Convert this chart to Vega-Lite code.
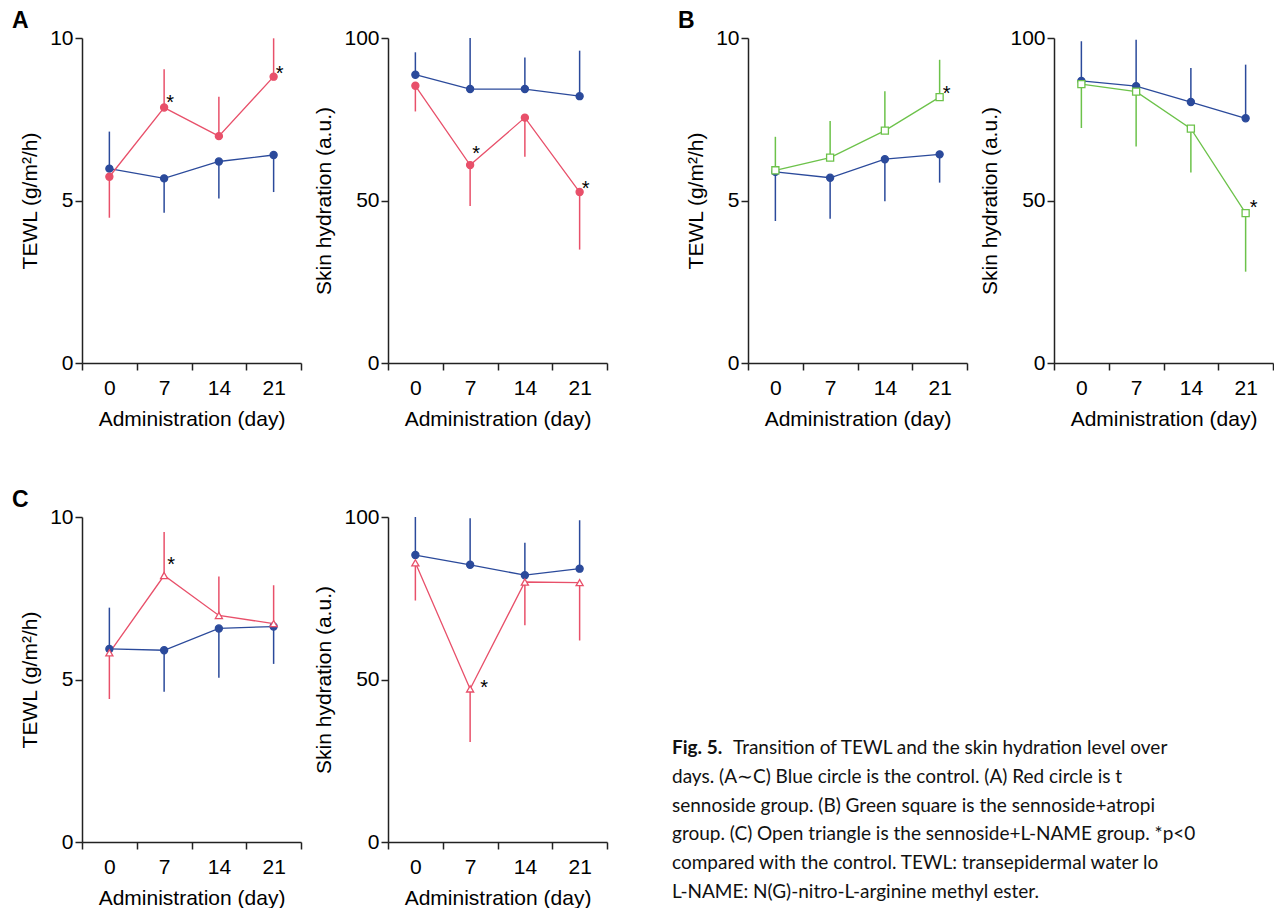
{
  "$schema": "https://vega.github.io/schema/vega-lite/v6.json",
  "padding": {"left": 12, "top": 10, "right": 0, "bottom": 0},
  "config": {
    "view": {"stroke": null},
    "font": "Liberation Sans",
    "axis": {"domainColor": "#222", "domainWidth": 1.5, "tickColor": "#222", "tickWidth": 1.5, "tickSize": 7, "labelFontSize": 21, "labelColor": "#000", "titleFontSize": 21, "titleFontWeight": "normal", "titleColor": "#000", "grid": false, "labelFont": "Liberation Sans", "titleFont": "Liberation Sans"},
    "axisX": {"tickBand": "extent", "labelAngle": 0, "labelPadding": 7, "titlePadding": 10},
    "axisY": {"labelPadding": 2, "titlePadding": 9},
    "title": {"fontSize": 23, "fontWeight": "bold", "anchor": "start", "frame": "group", "font": "Liberation Sans", "color": "#000", "dx": -70, "dy": 10}
  },
  "datasets": {
    "d": [
      {"panel": "A_T", "group": "Control", "day": 0, "mean": 5.98, "end": 7.12, "star": null},
      {"panel": "A_T", "group": "Control", "day": 7, "mean": 5.68, "end": 4.62, "star": null},
      {"panel": "A_T", "group": "Control", "day": 14, "mean": 6.20, "end": 5.06, "star": null},
      {"panel": "A_T", "group": "Control", "day": 21, "mean": 6.40, "end": 5.26, "star": null},
      {"panel": "A_T", "group": "Sennoside", "day": 0, "mean": 5.73, "end": 4.47, "star": null},
      {"panel": "A_T", "group": "Sennoside", "day": 7, "mean": 7.86, "end": 9.04, "star": 8.14},
      {"panel": "A_T", "group": "Sennoside", "day": 14, "mean": 6.98, "end": 8.19, "star": null},
      {"panel": "A_T", "group": "Sennoside", "day": 21, "mean": 8.81, "end": 9.99, "star": 9.06},
      {"panel": "A_S", "group": "Control", "day": 0, "mean": 88.7, "end": 95.6, "star": null},
      {"panel": "A_S", "group": "Control", "day": 7, "mean": 84.3, "end": 100, "star": null},
      {"panel": "A_S", "group": "Control", "day": 14, "mean": 84.3, "end": 94.0, "star": null},
      {"panel": "A_S", "group": "Control", "day": 21, "mean": 82.1, "end": 96.1, "star": null},
      {"panel": "A_S", "group": "Sennoside", "day": 0, "mean": 85.3, "end": 77.4, "star": null},
      {"panel": "A_S", "group": "Sennoside", "day": 7, "mean": 60.9, "end": 48.3, "star": 66.0},
      {"panel": "A_S", "group": "Sennoside", "day": 14, "mean": 75.5, "end": 63.5, "star": null},
      {"panel": "A_S", "group": "Sennoside", "day": 21, "mean": 52.6, "end": 34.9, "star": 55.2},
      {"panel": "B_T", "group": "Control", "day": 0, "mean": 5.88, "end": 4.37, "star": null},
      {"panel": "B_T", "group": "Control", "day": 7, "mean": 5.70, "end": 4.44, "star": null},
      {"panel": "B_T", "group": "Control", "day": 14, "mean": 6.27, "end": 4.98, "star": null},
      {"panel": "B_T", "group": "Control", "day": 21, "mean": 6.42, "end": 5.55, "star": null},
      {"panel": "B_T", "group": "Sennoside+Atropine", "day": 0, "mean": 5.93, "end": 6.96, "star": null},
      {"panel": "B_T", "group": "Sennoside+Atropine", "day": 7, "mean": 6.32, "end": 7.45, "star": null},
      {"panel": "B_T", "group": "Sennoside+Atropine", "day": 14, "mean": 7.15, "end": 8.36, "star": null},
      {"panel": "B_T", "group": "Sennoside+Atropine", "day": 21, "mean": 8.18, "end": 9.33, "star": 8.43},
      {"panel": "B_S", "group": "Control", "day": 0, "mean": 86.8, "end": 99.0, "star": null},
      {"panel": "B_S", "group": "Control", "day": 7, "mean": 85.2, "end": 99.5, "star": null},
      {"panel": "B_S", "group": "Control", "day": 14, "mean": 80.3, "end": 90.8, "star": null},
      {"panel": "B_S", "group": "Control", "day": 21, "mean": 75.3, "end": 91.8, "star": null},
      {"panel": "B_S", "group": "Sennoside+Atropine", "day": 0, "mean": 85.8, "end": 72.3, "star": null},
      {"panel": "B_S", "group": "Sennoside+Atropine", "day": 7, "mean": 83.5, "end": 66.6, "star": null},
      {"panel": "B_S", "group": "Sennoside+Atropine", "day": 14, "mean": 72.1, "end": 58.6, "star": null},
      {"panel": "B_S", "group": "Sennoside+Atropine", "day": 21, "mean": 46.1, "end": 28.1, "star": 49.1},
      {"panel": "C_T", "group": "Control", "day": 0, "mean": 5.94, "end": 7.21, "star": null},
      {"panel": "C_T", "group": "Control", "day": 7, "mean": 5.90, "end": 4.62, "star": null},
      {"panel": "C_T", "group": "Control", "day": 14, "mean": 6.57, "end": 5.05, "star": null},
      {"panel": "C_T", "group": "Control", "day": 21, "mean": 6.63, "end": 5.48, "star": null},
      {"panel": "C_T", "group": "Sennoside+L-NAME", "day": 0, "mean": 5.82, "end": 4.40, "star": null},
      {"panel": "C_T", "group": "Sennoside+L-NAME", "day": 7, "mean": 8.20, "end": 9.54, "star": 8.68},
      {"panel": "C_T", "group": "Sennoside+L-NAME", "day": 14, "mean": 6.97, "end": 8.17, "star": null},
      {"panel": "C_T", "group": "Sennoside+L-NAME", "day": 21, "mean": 6.72, "end": 7.90, "star": null},
      {"panel": "C_S", "group": "Control", "day": 0, "mean": 88.3, "end": 100, "star": null},
      {"panel": "C_S", "group": "Control", "day": 7, "mean": 85.3, "end": 99.6, "star": null},
      {"panel": "C_S", "group": "Control", "day": 14, "mean": 82.1, "end": 92.1, "star": null},
      {"panel": "C_S", "group": "Control", "day": 21, "mean": 84.1, "end": 99.0, "star": null},
      {"panel": "C_S", "group": "Sennoside+L-NAME", "day": 0, "mean": 85.9, "end": 74.3, "star": null},
      {"panel": "C_S", "group": "Sennoside+L-NAME", "day": 7, "mean": 47.1, "end": 30.8, "star": 48.9},
      {"panel": "C_S", "group": "Sennoside+L-NAME", "day": 14, "mean": 80.0, "end": 66.7, "star": null},
      {"panel": "C_S", "group": "Sennoside+L-NAME", "day": 21, "mean": 79.8, "end": 62.0, "star": null}
    ],
    "caption": [
      {"line": 1, "text": "Transition of TEWL and the skin hydration level over"},
      {"line": 2, "text": "days. (A∼C) Blue circle is the control. (A) Red circle is t"},
      {"line": 3, "text": "sennoside group. (B) Green square is the sennoside+atropi"},
      {"line": 4, "text": "group. (C) Open triangle is the sennoside+L-NAME group. *p<0"},
      {"line": 5, "text": "compared with the control. TEWL: transepidermal water lo"},
      {"line": 6, "text": "L-NAME: N(G)-nitro-L-arginine methyl ester."}
    ]
  },
  "bounds": "flush",
  "align": {"row": "all", "column": "none"},
  "columns": 7,
  "spacing": {"row": 154, "column": 10},
  "concat": [
    {
      "width": 219, "height": 325,
      "title": {"text": "A"},
      "data": {"name": "d"},
      "transform": [{"filter": "datum.panel === 'A_T'"}],
      "encoding": {
        "x": {"field": "day", "type": "ordinal", "bandPosition": 0.5, "scale": {"type": "band", "domain": [0, 7, 14, 21], "paddingInner": 0, "paddingOuter": 0}, "title": "Administration (day)"},
        "y": {"field": "mean", "type": "quantitative", "scale": {"domain": [0, 10], "nice": false}, "axis": {"values": [0, 5, 10]}, "title": "TEWL (g/m²/h)"}
      },
      "layer": [
        {"mark": {"type": "rule", "strokeWidth": 1.5}, "encoding": {"y2": {"field": "end"}, "stroke": {"field": "group", "type": "nominal", "scale": {"domain": ["Control", "Sennoside", "Sennoside+Atropine", "Sennoside+L-NAME"], "range": ["#2b4a9b", "#e8506a", "#6cc24a", "#e8506a"]}, "legend": null}}},
        {"mark": {"type": "line", "strokeWidth": 1.3}, "encoding": {"stroke": {"field": "group", "type": "nominal", "legend": null}}},
        {"mark": {"type": "point", "filled": true, "size": 50, "strokeWidth": 1.3, "opacity": 1}, "encoding": {"stroke": {"field": "group", "type": "nominal", "legend": null}, "fill": {"field": "group", "type": "nominal", "scale": {"domain": ["Control", "Sennoside", "Sennoside+Atropine", "Sennoside+L-NAME"], "range": ["#2b4a9b", "#e8506a", "#ffffff", "#ffffff"]}, "legend": null}, "shape": {"field": "group", "type": "nominal", "scale": {"domain": ["Control", "Sennoside", "Sennoside+Atropine", "Sennoside+L-NAME"], "range": ["circle", "circle", "square", "triangle-up"]}, "legend": null}}},
        {"transform": [{"filter": "datum.star != null"}], "mark": {"type": "text", "text": "*", "dx": 6, "dy": 5, "fontSize": 20, "color": "#000"}, "encoding": {"y": {"field": "star", "type": "quantitative", "title": "TEWL (g/m²/h)"}}}
      ]
    },
    {"width": 67, "height": 325, "data": {"values": []}, "mark": "point"},
    {
      "width": 219, "height": 325,
      "data": {"name": "d"},
      "transform": [{"filter": "datum.panel === 'A_S'"}],
      "encoding": {
        "x": {"field": "day", "type": "ordinal", "bandPosition": 0.5, "scale": {"type": "band", "domain": [0, 7, 14, 21], "paddingInner": 0, "paddingOuter": 0}, "title": "Administration (day)"},
        "y": {"field": "mean", "type": "quantitative", "scale": {"domain": [0, 100], "nice": false}, "axis": {"values": [0, 50, 100]}, "title": "Skin hydration (a.u.)"}
      },
      "layer": [
        {"mark": {"type": "rule", "strokeWidth": 1.5}, "encoding": {"y2": {"field": "end"}, "stroke": {"field": "group", "type": "nominal", "scale": {"domain": ["Control", "Sennoside", "Sennoside+Atropine", "Sennoside+L-NAME"], "range": ["#2b4a9b", "#e8506a", "#6cc24a", "#e8506a"]}, "legend": null}}},
        {"mark": {"type": "line", "strokeWidth": 1.3}, "encoding": {"stroke": {"field": "group", "type": "nominal", "legend": null}}},
        {"mark": {"type": "point", "filled": true, "size": 50, "strokeWidth": 1.3, "opacity": 1}, "encoding": {"stroke": {"field": "group", "type": "nominal", "legend": null}, "fill": {"field": "group", "type": "nominal", "scale": {"domain": ["Control", "Sennoside", "Sennoside+Atropine", "Sennoside+L-NAME"], "range": ["#2b4a9b", "#e8506a", "#ffffff", "#ffffff"]}, "legend": null}, "shape": {"field": "group", "type": "nominal", "scale": {"domain": ["Control", "Sennoside", "Sennoside+Atropine", "Sennoside+L-NAME"], "range": ["circle", "circle", "square", "triangle-up"]}, "legend": null}}},
        {"transform": [{"filter": "datum.star != null"}], "mark": {"type": "text", "text": "*", "dx": 6, "dy": 5, "fontSize": 20, "color": "#000"}, "encoding": {"y": {"field": "star", "type": "quantitative", "title": "Skin hydration (a.u.)"}}}
      ]
    },
    {"width": 121, "height": 325, "data": {"values": []}, "mark": "point"},
    {
      "width": 219, "height": 325,
      "title": {"text": "B"},
      "data": {"name": "d"},
      "transform": [{"filter": "datum.panel === 'B_T'"}],
      "encoding": {
        "x": {"field": "day", "type": "ordinal", "bandPosition": 0.5, "scale": {"type": "band", "domain": [0, 7, 14, 21], "paddingInner": 0, "paddingOuter": 0}, "title": "Administration (day)"},
        "y": {"field": "mean", "type": "quantitative", "scale": {"domain": [0, 10], "nice": false}, "axis": {"values": [0, 5, 10]}, "title": "TEWL (g/m²/h)"}
      },
      "layer": [
        {"mark": {"type": "rule", "strokeWidth": 1.5}, "encoding": {"y2": {"field": "end"}, "stroke": {"field": "group", "type": "nominal", "scale": {"domain": ["Control", "Sennoside", "Sennoside+Atropine", "Sennoside+L-NAME"], "range": ["#2b4a9b", "#e8506a", "#6cc24a", "#e8506a"]}, "legend": null}}},
        {"mark": {"type": "line", "strokeWidth": 1.3}, "encoding": {"stroke": {"field": "group", "type": "nominal", "legend": null}}},
        {"mark": {"type": "point", "filled": true, "size": 50, "strokeWidth": 1.3, "opacity": 1}, "encoding": {"stroke": {"field": "group", "type": "nominal", "legend": null}, "fill": {"field": "group", "type": "nominal", "scale": {"domain": ["Control", "Sennoside", "Sennoside+Atropine", "Sennoside+L-NAME"], "range": ["#2b4a9b", "#e8506a", "#ffffff", "#ffffff"]}, "legend": null}, "shape": {"field": "group", "type": "nominal", "scale": {"domain": ["Control", "Sennoside", "Sennoside+Atropine", "Sennoside+L-NAME"], "range": ["circle", "circle", "square", "triangle-up"]}, "legend": null}}},
        {"transform": [{"filter": "datum.star != null"}], "mark": {"type": "text", "text": "*", "dx": 7, "dy": 5, "fontSize": 20, "color": "#000"}, "encoding": {"y": {"field": "star", "type": "quantitative", "title": "TEWL (g/m²/h)"}}}
      ]
    },
    {"width": 67, "height": 325, "data": {"values": []}, "mark": "point"},
    {
      "width": 219, "height": 325,
      "data": {"name": "d"},
      "transform": [{"filter": "datum.panel === 'B_S'"}],
      "encoding": {
        "x": {"field": "day", "type": "ordinal", "bandPosition": 0.5, "scale": {"type": "band", "domain": [0, 7, 14, 21], "paddingInner": 0, "paddingOuter": 0}, "title": "Administration (day)"},
        "y": {"field": "mean", "type": "quantitative", "scale": {"domain": [0, 100], "nice": false}, "axis": {"values": [0, 50, 100]}, "title": "Skin hydration (a.u.)"}
      },
      "layer": [
        {"mark": {"type": "rule", "strokeWidth": 1.5}, "encoding": {"y2": {"field": "end"}, "stroke": {"field": "group", "type": "nominal", "scale": {"domain": ["Control", "Sennoside", "Sennoside+Atropine", "Sennoside+L-NAME"], "range": ["#2b4a9b", "#e8506a", "#6cc24a", "#e8506a"]}, "legend": null}}},
        {"mark": {"type": "line", "strokeWidth": 1.3}, "encoding": {"stroke": {"field": "group", "type": "nominal", "legend": null}}},
        {"mark": {"type": "point", "filled": true, "size": 50, "strokeWidth": 1.3, "opacity": 1}, "encoding": {"stroke": {"field": "group", "type": "nominal", "legend": null}, "fill": {"field": "group", "type": "nominal", "scale": {"domain": ["Control", "Sennoside", "Sennoside+Atropine", "Sennoside+L-NAME"], "range": ["#2b4a9b", "#e8506a", "#ffffff", "#ffffff"]}, "legend": null}, "shape": {"field": "group", "type": "nominal", "scale": {"domain": ["Control", "Sennoside", "Sennoside+Atropine", "Sennoside+L-NAME"], "range": ["circle", "circle", "square", "triangle-up"]}, "legend": null}}},
        {"transform": [{"filter": "datum.star != null"}], "mark": {"type": "text", "text": "*", "dx": 8, "dy": 5, "fontSize": 20, "color": "#000"}, "encoding": {"y": {"field": "star", "type": "quantitative", "title": "Skin hydration (a.u.)"}}}
      ]
    },
    {
      "width": 219, "height": 325,
      "title": {"text": "C"},
      "data": {"name": "d"},
      "transform": [{"filter": "datum.panel === 'C_T'"}],
      "encoding": {
        "x": {"field": "day", "type": "ordinal", "bandPosition": 0.5, "scale": {"type": "band", "domain": [0, 7, 14, 21], "paddingInner": 0, "paddingOuter": 0}, "title": "Administration (day)"},
        "y": {"field": "mean", "type": "quantitative", "scale": {"domain": [0, 10], "nice": false}, "axis": {"values": [0, 5, 10]}, "title": "TEWL (g/m²/h)"}
      },
      "layer": [
        {"mark": {"type": "rule", "strokeWidth": 1.5}, "encoding": {"y2": {"field": "end"}, "stroke": {"field": "group", "type": "nominal", "scale": {"domain": ["Control", "Sennoside", "Sennoside+Atropine", "Sennoside+L-NAME"], "range": ["#2b4a9b", "#e8506a", "#6cc24a", "#e8506a"]}, "legend": null}}},
        {"mark": {"type": "line", "strokeWidth": 1.3}, "encoding": {"stroke": {"field": "group", "type": "nominal", "legend": null}}},
        {"mark": {"type": "point", "filled": true, "size": 50, "strokeWidth": 1.3, "opacity": 1}, "encoding": {"stroke": {"field": "group", "type": "nominal", "legend": null}, "fill": {"field": "group", "type": "nominal", "scale": {"domain": ["Control", "Sennoside", "Sennoside+Atropine", "Sennoside+L-NAME"], "range": ["#2b4a9b", "#e8506a", "#ffffff", "#ffffff"]}, "legend": null}, "shape": {"field": "group", "type": "nominal", "scale": {"domain": ["Control", "Sennoside", "Sennoside+Atropine", "Sennoside+L-NAME"], "range": ["circle", "circle", "square", "triangle-up"]}, "legend": null}}},
        {"transform": [{"filter": "datum.star != null"}], "mark": {"type": "text", "text": "*", "dx": 7, "dy": 5, "fontSize": 20, "color": "#000"}, "encoding": {"y": {"field": "star", "type": "quantitative", "title": "TEWL (g/m²/h)"}}}
      ]
    },
    {"width": 67, "height": 325, "data": {"values": []}, "mark": "point"},
    {
      "width": 219, "height": 325,
      "data": {"name": "d"},
      "transform": [{"filter": "datum.panel === 'C_S'"}],
      "encoding": {
        "x": {"field": "day", "type": "ordinal", "bandPosition": 0.5, "scale": {"type": "band", "domain": [0, 7, 14, 21], "paddingInner": 0, "paddingOuter": 0}, "title": "Administration (day)"},
        "y": {"field": "mean", "type": "quantitative", "scale": {"domain": [0, 100], "nice": false}, "axis": {"values": [0, 50, 100]}, "title": "Skin hydration (a.u.)"}
      },
      "layer": [
        {"mark": {"type": "rule", "strokeWidth": 1.5}, "encoding": {"y2": {"field": "end"}, "stroke": {"field": "group", "type": "nominal", "scale": {"domain": ["Control", "Sennoside", "Sennoside+Atropine", "Sennoside+L-NAME"], "range": ["#2b4a9b", "#e8506a", "#6cc24a", "#e8506a"]}, "legend": null}}},
        {"mark": {"type": "line", "strokeWidth": 1.3}, "encoding": {"stroke": {"field": "group", "type": "nominal", "legend": null}}},
        {"mark": {"type": "point", "filled": true, "size": 50, "strokeWidth": 1.3, "opacity": 1}, "encoding": {"stroke": {"field": "group", "type": "nominal", "legend": null}, "fill": {"field": "group", "type": "nominal", "scale": {"domain": ["Control", "Sennoside", "Sennoside+Atropine", "Sennoside+L-NAME"], "range": ["#2b4a9b", "#e8506a", "#ffffff", "#ffffff"]}, "legend": null}, "shape": {"field": "group", "type": "nominal", "scale": {"domain": ["Control", "Sennoside", "Sennoside+Atropine", "Sennoside+L-NAME"], "range": ["circle", "circle", "square", "triangle-up"]}, "legend": null}}},
        {"transform": [{"filter": "datum.star != null"}], "mark": {"type": "text", "text": "*", "dx": 14, "dy": 5, "fontSize": 20, "color": "#000"}, "encoding": {"y": {"field": "star", "type": "quantitative", "title": "Skin hydration (a.u.)"}}}
      ]
    },
    {
      "width": 121, "height": 325,
      "data": {"name": "caption"},
      "encoding": {
        "x": {"datum": 0, "type": "quantitative", "scale": {"domain": [0, 1], "nice": false, "zero": false}, "axis": null},
        "y": {"field": "line", "type": "quantitative", "scale": {"domain": [1, 6], "range": [231, 375], "nice": false, "zero": false}, "axis": null}
      },
      "layer": [
        {"transform": [{"filter": "datum.line === 1"}], "mark": {"type": "text", "text": "Fig. 5.", "align": "left", "dx": 55, "font": "Lato", "fontWeight": "bold", "fontSize": 19, "color": "#111"}},
        {"transform": [{"filter": "datum.line === 1"}], "mark": {"type": "text", "align": "left", "dx": 116, "font": "Lato", "fontSize": 19, "color": "#111"}, "encoding": {"text": {"field": "text"}}},
        {"transform": [{"filter": "datum.line > 1"}], "mark": {"type": "text", "align": "left", "dx": 55, "font": "Lato", "fontSize": 19, "color": "#111"}, "encoding": {"text": {"field": "text"}}}
      ]
    }
  ]
}
